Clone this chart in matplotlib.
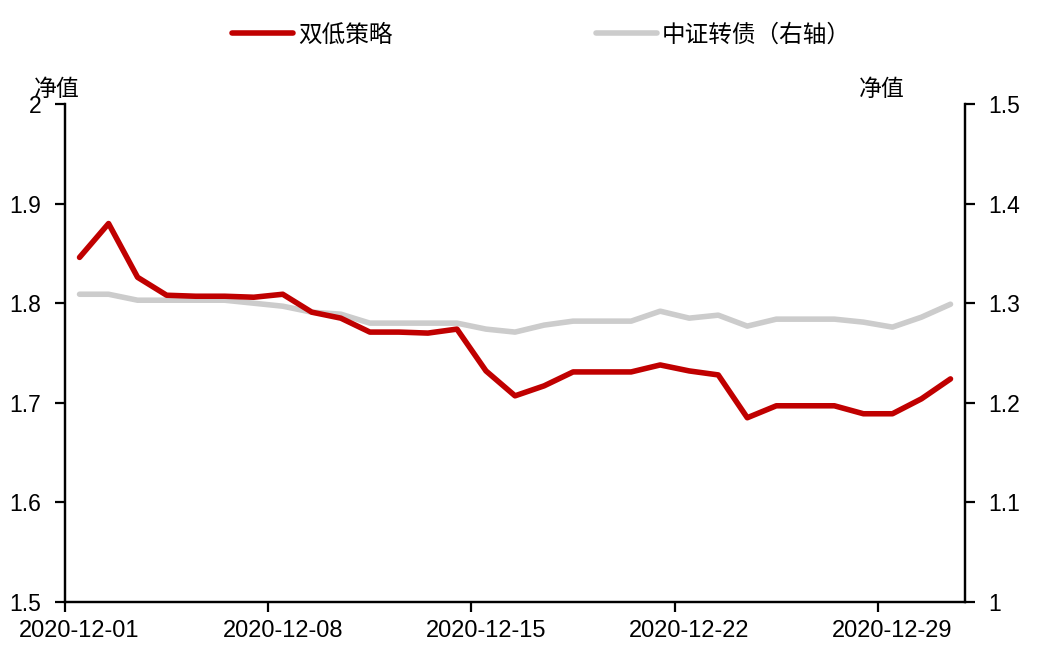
import numpy as np
import pandas as pd
from matplotlib import pyplot as plt
from matplotlib import dates as mdates
from matplotlib.ticker import FuncFormatter, MultipleLocator, NullFormatter

plt.rcParams['font.family'] = ['Liberation Sans', 'Noto Sans CJK SC', 'DejaVu Sans']

dates = pd.date_range('2020-12-01', '2020-12-31', freq='D')
shuang_di = [1.846, 1.880, 1.826, 1.808, 1.807, 1.807, 1.806, 1.809, 1.791, 1.785,
             1.771, 1.771, 1.770, 1.774, 1.732, 1.707, 1.717, 1.731, 1.731, 1.731,
             1.738, 1.732, 1.728, 1.685, 1.697, 1.697, 1.697, 1.689, 1.689, 1.704,
             1.724]
zhongzheng = [1.309, 1.309, 1.303, 1.303, 1.303, 1.303, 1.300, 1.297, 1.291, 1.289,
              1.280, 1.280, 1.280, 1.280, 1.274, 1.271, 1.278, 1.282, 1.282, 1.282,
              1.292, 1.285, 1.288, 1.277, 1.284, 1.284, 1.284, 1.281, 1.276, 1.286,
              1.299]
tick_dates = ['2020-12-01', '2020-12-08', '2020-12-15', '2020-12-22', '2020-12-29']

RED = '#C00000'
GRAY = '#CCCCCC'
FS = 16.5

fig = plt.figure(figsize=(10.47, 6.51), dpi=100)
ax = fig.add_axes([0.0621, 0.0753, 0.8596, 0.7649])
ax2 = ax.twinx()

# points sit in the middle of each day (category centre)
half = pd.Timedelta(hours=12)
x = dates + half
l1, = ax.plot(x, shuang_di, color=RED, lw=4, solid_capstyle='round', solid_joinstyle='round',
              label='双低策略', zorder=3)
l2, = ax2.plot(x, zhongzheng, color=GRAY, lw=4, solid_capstyle='round', solid_joinstyle='round',
               label='中证转债（右轴）', zorder=2)
ax.set_zorder(ax2.get_zorder() + 1)
ax.patch.set_visible(False)

ax.set_xlim(pd.Timestamp('2020-12-01'), pd.Timestamp('2021-01-01'))
ax.set_ylim(1.5, 2.0)
ax2.set_ylim(1.0, 1.5)
ax.yaxis.set_major_locator(MultipleLocator(0.1))
ax2.yaxis.set_major_locator(MultipleLocator(0.1))
fmt = FuncFormatter(lambda v, p: '%g' % round(v, 2))
ax.yaxis.set_major_formatter(fmt)
ax2.yaxis.set_major_formatter(fmt)

# tick marks at day boundaries, labels centred on the day
ticks = pd.to_datetime(tick_dates)
ax.set_xticks(ticks)
ax.xaxis.set_major_formatter(NullFormatter())
ax.set_xticks(ticks + half, minor=True)
ax.xaxis.set_minor_formatter(mdates.DateFormatter('%Y-%m-%d'))

for a in (ax, ax2):
    a.spines['top'].set_visible(False)
    for s in ('left', 'right', 'bottom'):
        a.spines[s].set_linewidth(1.6)
        a.spines[s].set_color('black')
    a.tick_params(axis='y', direction='out', length=7, width=1.6, labelsize=FS, pad=10)
ax.tick_params(axis='x', which='major', direction='out', length=7, width=1.6)
ax.tick_params(axis='x', which='minor', length=0, labelsize=17, pad=13)

fig.text(0.054, 0.862, '净值', fontsize=FS, ha='center', va='center')
fig.text(0.842, 0.862, '净值', fontsize=FS, ha='center', va='center')

fig.legend(handles=[l1, l2], loc='center', bbox_to_anchor=(0.517, 0.946), ncol=2, frameon=False,
           fontsize=17, handlelength=2.6, handletextpad=0.2, columnspacing=8.6)

fig.savefig('out.png', dpi=100)
